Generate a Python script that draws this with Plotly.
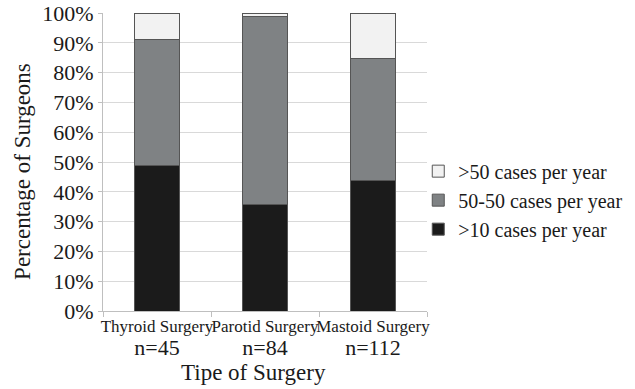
import plotly.graph_objects as go

# Surgeon volume by surgery type (percent of surgeons in each group)
surgeries = ["Thyroid Surgery", "Parotid Surgery", "Mastoid Surgery"]
sample_sizes = [45, 84, 112]
low_volume = [48.9, 35.7, 43.8]      # >10 cases per year
mid_volume = [42.2, 63.1, 41.1]      # 50-50 cases per year
high_volume = [8.9, 1.2, 15.1]       # >50 cases per year

series = [
    (">10 cases per year", low_volume, "#1b1b1b"),
    ("50-50 cases per year", mid_volume, "#7f8284"),
    (">50 cases per year", high_volume, "#f2f2f2"),
]

FONT = "Liberation Serif"
INK = "#1a1a1a"

tick_text = [
    f"{s}<br><span style='font-size:22px'>n={n}</span>"
    for s, n in zip(surgeries, sample_sizes)
]

fig = go.Figure()
for name, vals, color in series:
    fig.add_trace(go.Bar(
        x=surgeries, y=vals, name=name,
        marker=dict(color=color, line=dict(color="#555555", width=1)),
    ))

fig.update_layout(
    width=635, height=389,
    barmode="stack", bargap=0.59,
    paper_bgcolor="white", plot_bgcolor="white",
    margin=dict(l=103, r=208, t=13, b=78, autoexpand=False),
    font=dict(family=FONT, color=INK),
    legend=dict(
        x=0.973, y=0.372, xanchor="left", yanchor="middle",
        traceorder="reversed", itemwidth=30,
        font=dict(size=20, family=FONT, color=INK),
        tracegroupgap=0, bgcolor="rgba(0,0,0,0)",
    ),
    xaxis=dict(
        type="category", tickson="boundaries",
        tickmode="array", tickvals=surgeries, ticktext=tick_text,
        tickangle=0, automargin=False,
        ticks="outside", ticklen=5, tickcolor="#bfbfbf",
        showline=True, linecolor="#bfbfbf", linewidth=1,
        showgrid=False,
        tickfont=dict(size=17, family=FONT, color=INK),
    ),
    yaxis=dict(
        range=[0, 100], dtick=10, ticksuffix="%",
        showgrid=True, gridcolor="#d9d9d9", gridwidth=1,
        showline=True, linecolor="#bfbfbf", linewidth=1,
        ticks="outside", ticklen=4, tickcolor="#bfbfbf",
        ticklabeloverflow="allow", automargin=False,
        tickfont=dict(size=22, family=FONT, color=INK),
        zeroline=False,
    ),
    annotations=[
        dict(text="Percentage of Surgeons", textangle=-90,
             xref="paper", yref="paper", x=-0.247, y=0.47,
             xanchor="center", yanchor="middle", showarrow=False,
             font=dict(size=23, family=FONT, color=INK)),
        dict(text="Tipe of Surgery",
             xref="paper", yref="paper", x=0.4645, y=-0.205,
             xanchor="center", yanchor="middle", showarrow=False,
             font=dict(size=23, family=FONT, color=INK)),
    ],
)

fig.write_html("out.html")
